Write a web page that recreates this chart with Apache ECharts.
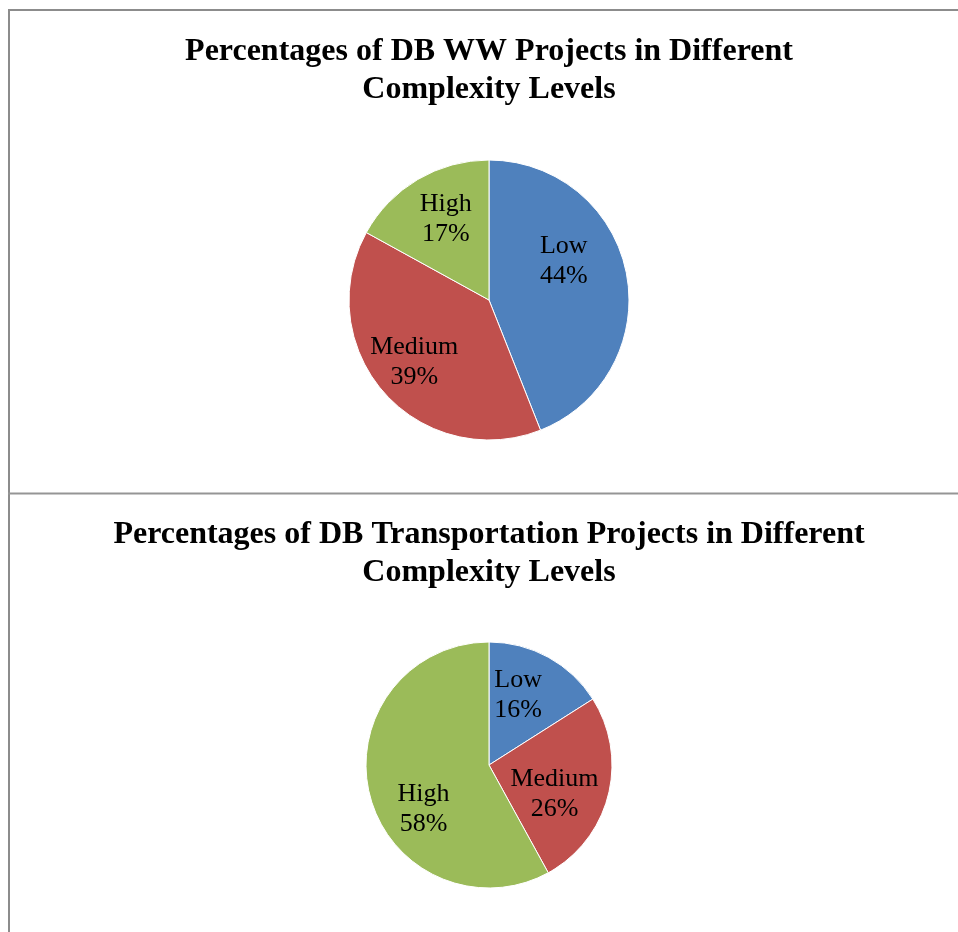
<!DOCTYPE html>
<html>
<head>
<meta charset="utf-8">
<script src="https://cdn.jsdelivr.net/npm/echarts@6/dist/echarts.min.js"></script>
<style>
  html, body { margin: 0; padding: 0; background: #fff; }
  #chart { width: 958px; height: 932px; }
</style>
</head>
<body>
<div id="chart"></div>
<script>
// categories and shares (percent)
var levels = ['Low', 'Medium', 'High'];
var wwShares = [44, 39, 17];
var transShares = [16, 26, 58];

var titleWW = 'Percentages of DB WW Projects in Different\nComplexity Levels';
var titleTrans = 'Percentages of DB Transportation Projects in Different\nComplexity Levels';

var colors = ['#4F81BD', '#C0504D', '#9BBB59'];
// small nudges so labels sit where Excel put them
var wwNudge = [[3, -25], [-20, 14], [-6, -18]];
var transNudge = [[-2, -13], [3, 13], [-3, 28]];

var serif = '"Liberation Serif", "Times New Roman", serif';

function pieData(vals, nudge) {
    return levels.map(function (name, i) {
        return {
            name: name,
            value: vals[i],
            itemStyle: { color: colors[i] },
            label: { offset: nudge[i] }
        };
    });
}

function pieSeries(vals, nudge, center, radius) {
    return {
        type: 'pie',
        center: center,
        radius: radius,
        startAngle: 90,
        clockwise: true,
        silent: true,
        itemStyle: { borderColor: '#fff', borderWidth: 1 },
        label: {
            show: true,
            position: 'inside',
            formatter: '{b}\n{c}%',
            fontFamily: serif,
            fontSize: 26,
            lineHeight: 30,
            color: '#000'
        },
        labelLine: { show: false },
        data: pieData(vals, nudge)
    };
}

var titleStyle = { fontFamily: serif, fontWeight: 'bold', fontSize: 32, lineHeight: 38, color: '#000' };

var chart = echarts.init(document.getElementById('chart'));
chart.setOption({
    animation: false,
    title: [
        { text: titleWW, left: 489, top: 33, padding: 0, textAlign: 'center', textStyle: titleStyle },
        { text: titleTrans, left: 489, top: 516, padding: 0, textAlign: 'center', textStyle: titleStyle }
    ],
    graphic: [
        { type: 'line', shape: { x1: 8, y1: 10, x2: 958, y2: 10 }, style: { stroke: '#8c8c8c', lineWidth: 2 } },
        { type: 'line', shape: { x1: 9, y1: 9, x2: 9, y2: 932 }, style: { stroke: '#8c8c8c', lineWidth: 2 } },
        { type: 'line', shape: { x1: 8, y1: 493.5, x2: 958, y2: 493.5 }, style: { stroke: '#959595', lineWidth: 2 } }
    ],
    series: [
        pieSeries(wwShares, wwNudge, [489, 300], 140),
        pieSeries(transShares, transNudge, [489, 765], 123)
    ]
});
</script>
</body>
</html>
